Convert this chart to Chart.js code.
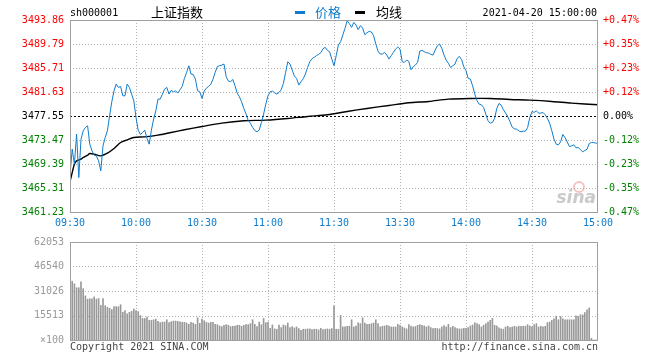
<!DOCTYPE html>
<html>
<head>
<meta charset="utf-8">
<script src="https://cdn.jsdelivr.net/npm/chart.js@4.4.0/dist/chart.umd.min.js"></script>
<style>
  body { margin: 0; background: #fff; }
  #wrap { position: relative; width: 660px; height: 360px; }
  canvas { position: absolute; left: 0; }
  #main { top: 0; }
  #vol { top: 230px; }
</style>
</head>
<body>
<div id="wrap">
  <canvas id="main" width="660" height="230"></canvas>
  <canvas id="vol" width="660" height="130"></canvas>
</div>
<script>
// --- dados (sh000001, 2021-04-20) ---
const prevClose = 3477.55;
const timeTicks = [0, 30, 60, 90, 120, 150, 180, 210, 240];
const timeLabels = ['09:30', '10:00', '10:30', '11:00', '11:30', '13:30', '14:00', '14:30', '15:00'];
const priceTicks = [3461.23, 3465.31, 3469.39, 3473.47, 3477.55, 3481.63, 3485.71, 3489.79, 3493.86];
const pctLabels = ['-0.47%', '-0.35%', '-0.23%', '-0.12%', '0.00%', '+0.12%', '+0.23%', '+0.35%', '+0.47%'];
const volTicks = [0, 15513, 31026, 46540, 62053];
const volLabels = ['\u00d7100', '15513', '31026', '46540', '62053'];

// preco por minuto (0 = 09:30 ... 240 = 15:00)
const prices = [
  3467.48, 3471.91, 3469.35, 3474.46, 3467.08, 3473.61, 3475.03, 3475.59, 3475.88, 3472.76,
  3471.62, 3470.88, 3470.77, 3469.92, 3468.22, 3472.47, 3473.89, 3475.03, 3477.58, 3479.96,
  3481.83, 3482.97, 3482.40, 3482.57, 3480.98, 3480.98, 3482.97, 3482.40, 3481.27, 3480.13,
  3477.30, 3475.14, 3474.40, 3474.74, 3475.14, 3473.72, 3472.76, 3475.14, 3477.01, 3478.43,
  3480.42, 3480.42, 3481.27, 3482.12, 3482.40, 3481.27, 3481.89, 3481.66, 3481.83, 3481.44,
  3482.00, 3482.57, 3483.93, 3484.95, 3486.09, 3484.67, 3484.61, 3483.82, 3481.83, 3481.66,
  3480.53, 3481.78, 3482.29, 3482.57, 3482.91, 3483.82, 3484.95, 3485.97, 3486.09, 3486.20,
  3486.37, 3484.22, 3483.48, 3483.36, 3483.76, 3482.68, 3481.44, 3480.81, 3479.96, 3478.83,
  3477.92, 3476.78, 3476.33, 3475.59, 3475.08, 3474.86, 3475.14, 3476.44, 3477.86, 3479.56,
  3480.98, 3481.66, 3481.78, 3481.49, 3481.27, 3481.55, 3482.00, 3483.08, 3484.95, 3486.77,
  3486.37, 3485.35, 3484.33, 3483.93, 3482.80, 3483.36, 3483.88, 3484.67, 3485.80, 3486.77,
  3487.28, 3487.51, 3487.79, 3488.02, 3488.30, 3488.98, 3489.21, 3488.70, 3488.47, 3487.22,
  3486.09, 3487.79, 3489.61, 3490.17, 3491.31, 3492.44, 3493.75, 3493.24, 3492.61, 3493.46,
  3493.01, 3492.21, 3492.90, 3492.50, 3491.36, 3491.70, 3491.93, 3491.82, 3491.19, 3489.78,
  3488.58, 3488.07, 3488.07, 3488.36, 3487.90, 3487.22, 3487.79, 3488.36, 3488.92, 3489.27,
  3488.92, 3486.77, 3486.66, 3487.05, 3486.83, 3485.41, 3485.92, 3486.20, 3486.66, 3488.58,
  3488.70, 3488.47, 3488.30, 3488.24, 3488.02, 3487.90, 3488.75, 3489.49, 3489.78, 3489.04,
  3487.90, 3487.05, 3486.49, 3485.80, 3486.09, 3486.37, 3487.34, 3487.68, 3487.11, 3485.92,
  3485.24, 3483.93, 3483.82, 3482.68, 3481.27, 3480.13, 3479.56, 3479.45, 3479.00, 3477.86,
  3476.73, 3476.33, 3476.44, 3477.13, 3478.83, 3479.68, 3479.39, 3478.60, 3478.03, 3477.41,
  3476.56, 3475.65, 3475.37, 3475.31, 3475.03, 3474.86, 3474.97, 3474.97, 3475.59, 3477.30,
  3478.32, 3478.15, 3478.43, 3478.03, 3478.03, 3478.15, 3477.75, 3477.13, 3476.33, 3475.03,
  3473.61, 3472.76, 3472.64, 3473.15, 3474.40, 3473.89, 3473.15, 3472.36, 3472.47, 3472.64,
  3472.13, 3472.19, 3471.85, 3471.45, 3471.68, 3471.90, 3472.87, 3473.04, 3473.04, 3472.93,
  3472.93
];

// linha media (minuto / valor)
const avgMinutes = [0, 1, 2, 3, 5, 6, 8, 9, 11, 14, 17, 20, 23, 26, 29, 34, 40, 46, 52, 60,
  69, 79, 89, 99, 108, 117, 126, 135, 145, 154, 163, 172, 182, 191, 200, 209, 219, 228, 240];
const avgValues = [3466.40, 3467.93, 3469.35, 3469.92, 3470.20, 3470.49, 3470.88, 3471.17, 3471.05, 3470.77,
  3471.22, 3472.02, 3473.04, 3473.49, 3473.89, 3474.00, 3474.29, 3474.74, 3475.20, 3475.76,
  3476.33, 3476.73, 3476.84, 3477.12, 3477.47, 3477.75, 3478.32, 3478.83, 3479.34, 3479.79,
  3480.02, 3480.41, 3480.53, 3480.53, 3480.36, 3480.24, 3480.02, 3479.73, 3479.45];

// volume por minuto (x100)
const volumes = [
  62053, 37220, 35570, 33090, 33090, 36810, 32470, 27920, 25850, 26060,
  26060, 27300, 25850, 26260, 21920, 26260, 21710, 20680, 20060, 19230,
  21090, 21090, 21090, 22330, 17580, 18610, 16540, 17580, 18200, 19650,
  18610, 17990, 15510, 13650, 13650, 14480, 12410, 12410, 12820, 13240,
  11790, 10960, 11370, 11370, 12820, 10960, 11580, 11990, 11990, 11790,
  11580, 11170, 11170, 10750, 9930, 11170, 10750, 9930, 14060, 10550,
  13240, 12200, 11170, 10750, 11170, 11170, 9930, 9720, 8890, 8480,
  9310, 9720, 9310, 8480, 8690, 8890, 9310, 9310, 8690, 9310,
  9720, 9720, 10340, 12820, 9930, 8480, 11370, 9720, 13650, 10960,
  11370, 7440, 9510, 7030, 6820, 9510, 7860, 9510, 9100, 10750,
  7860, 8480, 7650, 8270, 7240, 6200, 6820, 6820, 7030, 7030,
  6620, 6820, 6820, 6410, 7440, 6620, 6820, 7030, 6820, 7240,
  21710, 6820, 6820, 15510, 8270, 8270, 8690, 8690, 12820, 8270,
  8890, 10960, 10340, 14060, 10750, 9930, 9930, 10340, 10750, 12820,
  10340, 8270, 8690, 8890, 9310, 8890, 8270, 8270, 8270, 9930,
  9310, 8270, 7650, 7030, 9720, 8890, 8270, 8480, 9310, 9720,
  9310, 8890, 8270, 8890, 7860, 7240, 7440, 7240, 7030, 8270,
  9100, 8270, 9930, 7860, 8690, 7860, 7240, 7030, 7030, 7440,
  7440, 7860, 8890, 9510, 10960, 10340, 9720, 8270, 9310, 10340,
  11370, 12410, 13650, 9310, 8890, 7650, 7030, 6820, 8270, 8690,
  7860, 8270, 8690, 8270, 8690, 8690, 8690, 8690, 9720, 8890,
  8270, 9720, 10340, 8270, 8690, 8270, 8690, 10960, 11370, 12410,
  13440, 15100, 12820, 14890, 13440, 12820, 12820, 12820, 12820, 12820,
  15300, 14890, 15920, 15920, 17370, 19030, 20270, 1030, 0, 0,
  0
];

const AZUL = '#0f7ccc';
const VERMELHO = '#ff0000';
const VERDE = '#008000';
const MONO = '"DejaVu Sans Mono", monospace';
const fonteTick = { family: MONO, size: 10 };

// grade pontilhada e moldura
const gradePlugin = {
  id: 'grade',
  beforeDatasetsDraw(chart, args, opts) {
    const { ctx, chartArea: a, scales } = chart;
    ctx.save();
    ctx.lineWidth = 1;
    ctx.strokeStyle = '#b4b4b4';
    ctx.setLineDash([1, 2]);
    opts.linhasY.forEach(v => {
      const py = Math.round(scales.y.getPixelForValue(v)) + 0.5;
      ctx.beginPath(); ctx.moveTo(a.left, py); ctx.lineTo(a.right, py); ctx.stroke();
    });
    timeTicks.slice(1, -1).forEach(m => {
      const px = Math.round(scales.x.getPixelForValue(m)) + 0.5;
      ctx.beginPath(); ctx.moveTo(px, a.top); ctx.lineTo(px, a.bottom); ctx.stroke();
    });
    if (opts.fechamento) {
      const py = Math.round(scales.y.getPixelForValue(opts.fechamento)) + 0.5;
      ctx.strokeStyle = '#000';
      ctx.setLineDash([2, 2]);
      ctx.beginPath(); ctx.moveTo(a.left, py); ctx.lineTo(a.right, py); ctx.stroke();
    }
    ctx.restore();
  },
  afterDatasetsDraw(chart) {
    const { ctx, chartArea: a } = chart;
    ctx.save();
    ctx.strokeStyle = '#a0a0a0';
    ctx.lineWidth = 1;
    ctx.strokeRect(Math.round(a.left) + 0.5, Math.round(a.top) + 0.5,
      Math.round(a.right - a.left) - 1, Math.round(a.bottom - a.top));
    ctx.restore();
  }
};

// textos do cabecalho e marca d'agua
const cabecalhoPlugin = {
  id: 'cabecalho',
  afterDraw(chart) {
    const ctx = chart.ctx;
    ctx.save();
    ctx.textBaseline = 'middle';
    ctx.fillStyle = '#000';
    ctx.font = '10px ' + MONO;
    ctx.fillText('sh000001', 70, 13);
    ctx.font = '13px "Noto Sans CJK SC"';
    ctx.fillText('上证指数', 151, 12);
    ctx.fillStyle = AZUL;
    ctx.fillRect(295, 11, 10, 3);
    ctx.fillText('价格', 315, 12);
    ctx.fillStyle = '#000';
    ctx.fillRect(355, 11, 10, 3);
    ctx.fillText('均线', 376, 12);
    ctx.font = '10px ' + MONO;
    ctx.textAlign = 'right';
    ctx.fillText('2021-04-20 15:00:00', 597, 13);
    // marca sina
    ctx.strokeStyle = 'rgba(235,120,120,0.45)';
    ctx.lineWidth = 2;
    ctx.beginPath(); ctx.arc(579, 187, 5, 0, Math.PI * 2); ctx.stroke();
    ctx.font = 'italic bold 17px "DejaVu Sans"';
    ctx.fillStyle = 'rgba(150,150,150,0.5)';
    ctx.fillText('sina', 596, 199);
    ctx.restore();
  }
};

new Chart(document.getElementById('main'), {
  type: 'line',
  data: {
    datasets: [
      { data: prices.map((v, i) => ({ x: i, y: v })), borderColor: AZUL, borderWidth: 1, pointRadius: 0, tension: 0 },
      { data: avgMinutes.map((m, i) => ({ x: m, y: avgValues[i] })), borderColor: '#000', borderWidth: 1.4, pointRadius: 0, tension: 0.3 }
    ]
  },
  options: {
    responsive: false,
    animation: false,
    events: [],
    layout: { padding: { top: 20 } },
    plugins: {
      legend: { display: false },
      tooltip: { enabled: false },
      grade: { linhasY: priceTicks.filter(v => v !== prevClose).slice(1, -1), fechamento: prevClose }
    },
    scales: {
      x: {
        type: 'linear', min: 0, max: 240,
        afterBuildTicks: s => { s.ticks = timeTicks.map(v => ({ value: v })); },
        afterFit: s => { s.height = 18; },
        ticks: { callback: (v, i) => timeLabels[i], color: AZUL, font: fonteTick, maxRotation: 0, autoSkip: false, padding: 5 },
        grid: { display: false, drawTicks: false },
        border: { display: false }
      },
      y: {
        position: 'left', min: priceTicks[0], max: priceTicks[8],
        afterBuildTicks: s => { s.ticks = priceTicks.map(v => ({ value: v })); },
        afterFit: s => { s.width = 70; },
        ticks: {
          callback: v => v.toFixed(2), font: fonteTick, padding: 6,
          color: c => c.tick.value > prevClose ? VERMELHO : (c.tick.value < prevClose ? VERDE : '#000')
        },
        grid: { display: false, drawTicks: false },
        border: { display: false }
      },
      y2: {
        position: 'right', min: priceTicks[0], max: priceTicks[8],
        afterBuildTicks: s => { s.ticks = priceTicks.map(v => ({ value: v })); },
        afterFit: s => { s.width = 62; },
        ticks: {
          callback: (v, i) => pctLabels[i], font: fonteTick, padding: 5,
          color: c => c.tick.value > prevClose ? VERMELHO : (c.tick.value < prevClose ? VERDE : '#000')
        },
        grid: { display: false, drawTicks: false },
        border: { display: false }
      }
    }
  },
  plugins: [gradePlugin, cabecalhoPlugin]
});

const rodapePlugin = {
  id: 'rodape',
  afterDraw(chart) {
    const ctx = chart.ctx;
    ctx.save();
    ctx.textBaseline = 'middle';
    ctx.fillStyle = '#444';
    ctx.font = '10px ' + MONO;
    ctx.fillText('Copyright 2021 SINA.COM', 70, 117);
    ctx.textAlign = 'right';
    ctx.fillText('http://finance.sina.com.cn', 598, 117);
    ctx.restore();
  }
};

new Chart(document.getElementById('vol'), {
  type: 'bar',
  data: {
    datasets: [{
      data: volumes.map((v, i) => ({ x: i, y: v })),
      backgroundColor: '#999',
      barThickness: 1,
      borderWidth: 0
    }]
  },
  options: {
    responsive: false,
    animation: false,
    events: [],
    layout: { padding: { top: 10, bottom: 20, right: 62 } },
    plugins: {
      legend: { display: false },
      tooltip: { enabled: false },
      grade: { linhasY: volTicks.slice(1, -1) }
    },
    scales: {
      x: { type: 'linear', min: 0, max: 240, offset: false, display: false },
      y: {
        position: 'left', min: 0, max: volTicks[4],
        afterBuildTicks: s => { s.ticks = volTicks.map(v => ({ value: v })); },
        afterFit: s => { s.width = 70; },
        ticks: { callback: (v, i) => volLabels[i], font: fonteTick, padding: 6, color: '#999' },
        grid: { display: false, drawTicks: false },
        border: { display: false }
      }
    }
  },
  plugins: [gradePlugin, rodapePlugin]
});
</script>
</body>
</html>
